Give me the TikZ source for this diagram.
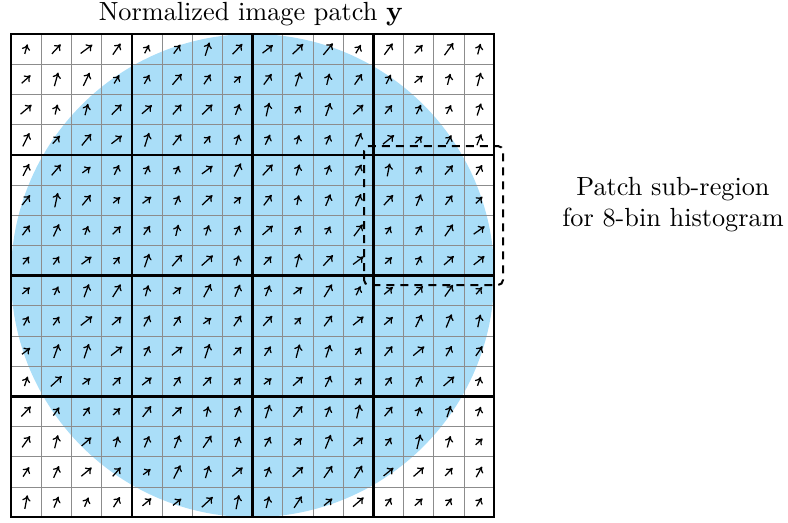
\documentclass[tikz,border=0pt]{standalone}
\usetikzlibrary{arrows.meta}
\definecolor{disk}{RGB}{170,222,248}
\begin{document}
\begin{tikzpicture}[x=0.4pt,y=-0.4pt,
  font=\fontsize{10.5pt}{12.4pt}\selectfont,
  thingrid/.style={draw=black!45, line width=0.4pt},
  thickgrid/.style={draw=black, line width=1pt, line cap=rect},
  grad/.style={-{To[length=2.3pt,width=3.4pt]}, line width=0.5pt},
  subregion/.style={draw=black, line width=0.8pt, dash pattern=on 3.2pt off 2.4pt, rounded corners=2pt}]
\useasboundingbox (0,0) rectangle (788,522);
\def\cell{30.2}
% weighting disk
\fill[disk] (252.6,275.6) circle[radius=241.6];
% cell grid
\foreach \k in {0,...,16}{
  \draw[thingrid] ({11+\k*\cell},34) -- ({11+\k*\cell},{34+16*\cell});
  \draw[thingrid] (11,{34+\k*\cell}) -- ({11+16*\cell},{34+\k*\cell});
}
\foreach \k in {0,4,8,12,16}{
  \draw[thickgrid] ({11+\k*\cell},34) -- ({11+\k*\cell},{34+16*\cell});
  \draw[thickgrid] (11,{34+\k*\cell}) -- ({11+16*\cell},{34+\k*\cell});
}
% gradient arrows
\pgfmathsetseed{7}
\foreach \i in {0,...,15}{
  \foreach \j in {0,...,15}{
    \pgfmathsetmacro\ang{35+45*rnd}
    \pgfmathsetmacro\len{(0.3+0.2*rnd)*\cell}
    \pgfmathsetmacro\cx{11+(\i+0.5)*\cell}
    \pgfmathsetmacro\cy{34+(\j+0.5)*\cell}
    \draw[grad] ({\cx-0.5*\len*cos(\ang)},{\cy+0.5*\len*sin(\ang)})
      -- ++({\len*cos(\ang)},{-\len*sin(\ang)});
  }
}
% sub-region outline
\draw[subregion] (364,146) rectangle (503,285);
% labels
\node (title) at (251,14) {Normalized image patch $\mathbf{y}$};
\node[align=center] (note) at (673,205) {Patch sub-region\\for 8-bin histogram};
\end{tikzpicture}
\end{document}
